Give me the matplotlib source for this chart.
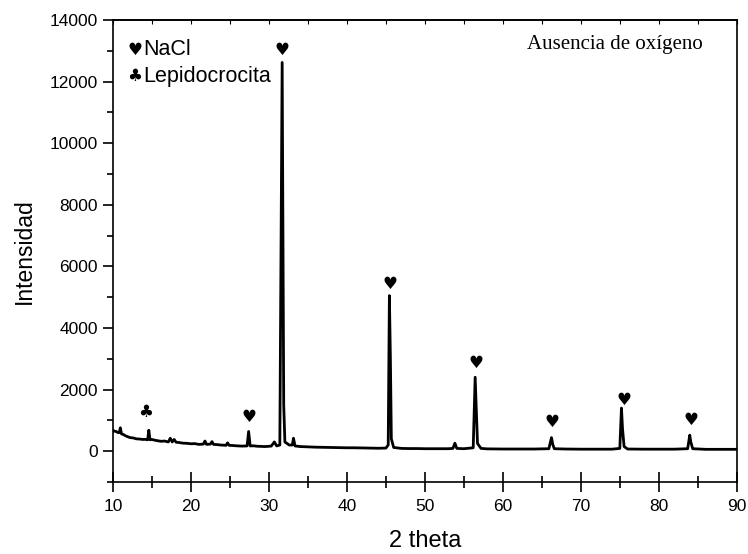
import matplotlib
matplotlib.use("Agg")
import matplotlib.pyplot as plt
from matplotlib.ticker import MultipleLocator

plt.rcParams['font.family'] = ['Liberation Sans', 'DejaVu Sans']

theta = [10.0, 10.2, 10.4, 10.6, 10.8, 10.95, 11.1, 11.35, 11.6, 11.9, 12.2, 12.6,
         13.0, 13.4, 13.8, 14.1, 14.45, 14.6, 14.75, 15.0, 15.3, 15.7, 16.2, 16.6,
         17.1, 17.35, 17.6, 17.85, 18.1, 18.5, 19.0, 19.5, 20.0, 20.5, 21.0, 21.6,
         21.8, 22.0, 22.5, 22.7, 22.9, 23.3, 23.8, 24.5, 24.7, 24.9, 25.3, 25.8,
         26.5, 27.2, 27.4, 27.6, 28.0, 28.5, 29.0, 29.5, 30.3, 30.7, 31.0, 31.4,
         31.7, 31.8, 31.9, 32.05, 32.6, 33.0, 33.15, 33.35, 34.0, 35.0, 36.0, 37.0,
         38.0, 39.0, 40.0, 41.0, 42.0, 43.0, 44.0, 45.0, 45.3, 45.45, 45.58, 45.7,
         46.0, 47.0, 48.0, 49.0, 50.0, 51.0, 52.0, 53.0, 53.6, 53.85, 54.1, 55.0,
         56.2, 56.45, 56.6, 56.75, 57.2, 58.0, 60.0, 62.0, 64.0, 65.9, 66.24, 66.4,
         66.6, 68.0, 70.0, 72.0, 74.0, 75.0, 75.21, 75.35, 75.55, 76.0, 78.0, 80.0,
         82.0, 83.7, 83.97, 84.1, 84.35, 86.0, 88.0, 90.0]
intensidad = [680, 650, 640, 610, 600, 760, 560, 540, 500, 470, 440, 430,
              400, 395, 380, 385, 370, 680, 370, 380, 360, 340, 320, 330,
              300, 420, 300, 380, 290, 280, 260, 255, 240, 245, 220, 230,
              330, 220, 230, 310, 220, 215, 200, 190, 270, 190, 185, 175,
              165, 170, 640, 170, 175, 160, 155, 150, 165, 300, 170, 200,
              12620, 6700, 1500, 300, 200, 200, 420, 170, 150, 140, 130, 125,
              120, 115, 110, 110, 105, 100, 95, 100, 200, 5050, 3000, 400,
              120, 90, 85, 85, 80, 80, 80, 80, 90, 260, 90, 80,
              110, 2400, 1300, 250, 90, 75, 70, 70, 70, 80, 440, 220,
              80, 70, 65, 65, 65, 90, 1400, 720, 150, 70, 65, 65,
              65, 80, 520, 300, 80, 60, 60, 60]

# posiciones de los simbolos sobre los picos
nacl_x = [27.44, 31.67, 45.5, 56.6, 66.24, 75.5, 84.15]
nacl_y = [1100, 13040, 5420, 2850, 940, 1650, 1000]
lepi_x = [14.2]
lepi_y = [1270]

fig = plt.figure(figsize=(7.48, 5.54), dpi=100)
ax = fig.add_axes([0.151, 0.130, 0.834, 0.834])

ax.plot(theta, intensidad, color='black', lw=2.0)

for x, y in zip(nacl_x, nacl_y):
    ax.text(x, y, '\u2665', fontsize=12, ha='center', va='center', family='DejaVu Sans')
for x, y in zip(lepi_x, lepi_y):
    ax.text(x, y, '\u2663', fontsize=12, ha='center', va='center', family='DejaVu Sans')

# leyenda hecha a mano
ax.text(0.0345, 0.935, '\u2665', transform=ax.transAxes, fontsize=12,
        ha='center', va='center', family='DejaVu Sans')
ax.text(0.048, 0.924, 'NaCl', transform=ax.transAxes, fontsize=15.5, va='baseline')
ax.text(0.0345, 0.879, '\u2663', transform=ax.transAxes, fontsize=12,
        ha='center', va='center', family='DejaVu Sans')
ax.text(0.048, 0.866, 'Lepidocrocita', transform=ax.transAxes, fontsize=15.5, va='baseline')

ax.text(0.804, 0.9366, 'Ausencia de oxígeno', transform=ax.transAxes, fontsize=15,
        ha='center', va='baseline', family='Liberation Serif')

ax.set_xlim(10, 90)
ax.set_ylim(-1000, 14000)
ax.xaxis.set_major_locator(MultipleLocator(10))
ax.xaxis.set_minor_locator(MultipleLocator(5))
ax.yaxis.set_major_locator(MultipleLocator(2000))
ax.yaxis.set_minor_locator(MultipleLocator(1000))

ax.tick_params(axis='x', which='major', direction='inout', length=14, width=1.2,
               labelsize=12.5, pad=5, top=False)
ax.tick_params(axis='x', which='minor', direction='inout', length=8, width=1.2, top=False)
ax.tick_params(axis='y', which='major', direction='out', length=7, width=1.2,
               labelsize=12.5, pad=4, right=False)
ax.tick_params(axis='y', which='minor', direction='out', length=4, width=1.2, right=False)

top = ax.secondary_xaxis('top')
top.xaxis.set_major_locator(MultipleLocator(5))
top.tick_params(axis='x', direction='in', length=3, width=0.8, labeltop=False)
top.spines['top'].set_linewidth(1.2)

for s in ax.spines.values():
    s.set_linewidth(1.2)

ax.set_xlabel('2 theta', fontsize=17, labelpad=12)
ax.set_ylabel('Intensidad', fontsize=16.5, labelpad=10)

fig.savefig('out.png', dpi=100)
